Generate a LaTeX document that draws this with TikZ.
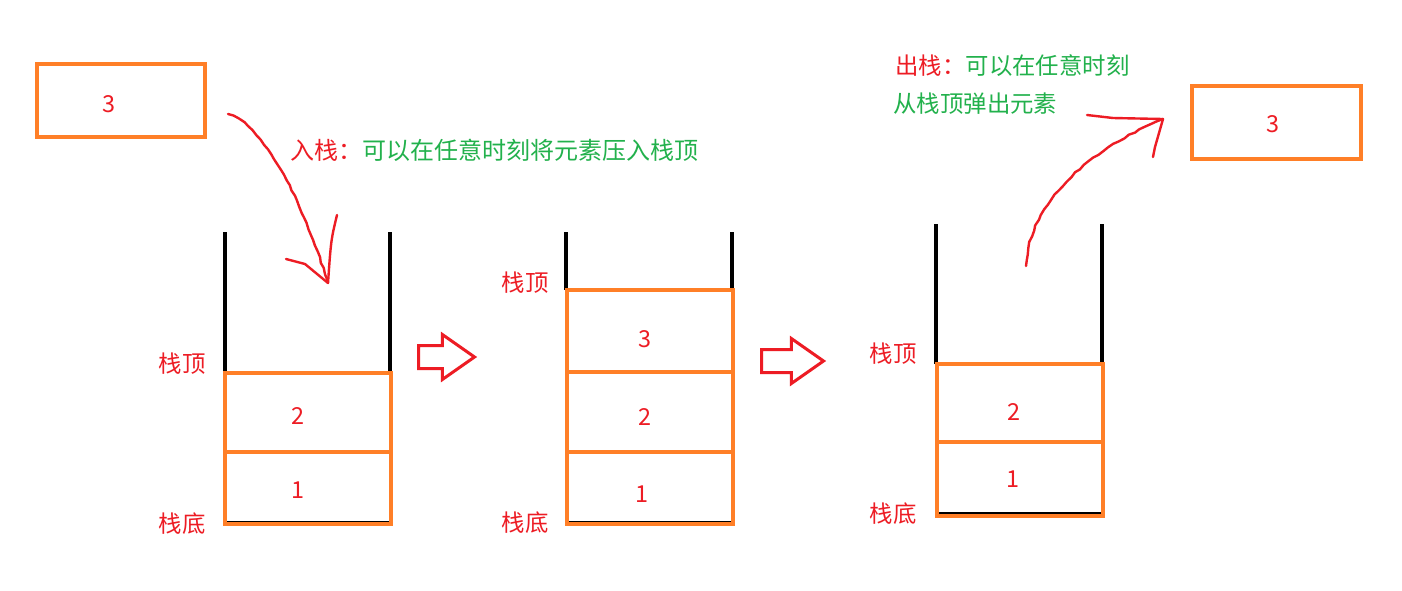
\documentclass[tikz,border=0pt]{standalone}
\usepackage{fontspec}
\setmainfont{Noto Sans CJK SC}
\usetikzlibrary{positioning}
\usetikzlibrary{shapes.arrows}
\usetikzlibrary{decorations.pathmorphing}
\definecolor{paintorange}{HTML}{FF7F27}
\definecolor{paintred}{HTML}{ED1C24}
\definecolor{paintgreen}{HTML}{22B14C}
\tikzset{
   cell/.style={draw=paintorange, line width=2pt, minimum width=83pt, outer sep=0pt,
      inner sep=0pt, text=paintred, font=\fontsize{11.7}{14}\selectfont},
   num/.style 2 args={label={[lbl, shift={#2}]center:#1}},
   wall/.style={black, line width=2pt},
   rim/.style={black, line width=0.7pt},
   lbl/.style={text=paintred, font=\fontsize{11.7}{14}\selectfont, inner sep=0pt},
   note/.style={text=paintgreen, font=\fontsize{11.7}{14}\selectfont, inner sep=0pt, anchor=west},
   pen/.style={paintred, line width=1.2pt, line cap=round, line join=round},
   hand/.style={decorate, decoration={random steps, segment length=3pt, amplitude=0.35pt}},
   shove/.style={single arrow, draw=paintred, line width=1.5pt, inner xsep=0pt, inner ysep=5pt,
      minimum height=28pt, single arrow head extend=5.5pt, single arrow tip angle=70, anchor=tail},
}
\begin{document}
\begin{tikzpicture}[x=0.5pt, y=-0.5pt]
   \useasboundingbox[fill=white] (0,0) rectangle (1402,590);

   % stack before the push
   \draw[rim] (226,232) |- (390,522) -- (390,232);
   \draw[wall] (225,232) -- (225,373);
   \draw[wall] (390,232) -- (390,373);
   \node[cell, minimum height=36pt, num={1}{(-9.5,2)}] (a1) at (307.5,488) {};
   \node[cell, minimum height=39.5pt, above=0pt of a1, num={2}{(-10,3.5)}] (a2) {};
   \node[lbl] (atop) at (182,364) {栈顶};
   \node[lbl] (abot) at (182,524) {栈底};

   % stack after the push
   \draw[rim] (567,232) |- (732,522) -- (732,232);
   \draw[wall] (566,232) -- (566,290);
   \draw[wall] (732,232) -- (732,290);
   \node[cell, minimum height=36pt, num={1}{(-7.5,6)}] (b1) at (649.5,488) {};
   \node[cell, minimum height=40pt, above=0pt of b1, num={2}{(-4.5,4.5)}] (b2) {};
   \node[cell, minimum height=41pt, above=0pt of b2, num={3}{(-4.5,8)}] (b3) {};
   \node[lbl] (btop) at (525,283) {栈顶};
   \node[lbl] (bbot) at (525,523) {栈底};

   % stack after the pop
   \draw[rim] (937,224) |- (1102,513) -- (1102,224);
   \draw[wall] (936,224) -- (936,364);
   \draw[wall] (1102,224) -- (1102,364);
   \node[cell, minimum height=37pt, num={1}{(-6.5,0)}] (c1) at (1019.5,479) {};
   \node[cell, minimum height=39pt, above=0pt of c1, num={2}{(-5.5,9)}] (c2) {};
   \node[lbl] (ctop) at (893,354) {栈顶};
   \node[lbl] (cbot) at (893,514) {栈底};

   \node[shove] (go1) at (417,357) {};
   \node[shove, minimum height=31pt] (go2) at (760,361) {};

   % element pushed in
   \node[cell, line width=2.4pt, minimum width=84pt, minimum height=36.5pt,
      num={3}{(-12,3.5)}] (in3) at (121,100.5) {};
   \node[note, font=\fontsize{12}{14}\selectfont] (pushtxt) at (290,150)
      {\textcolor{paintred}{入栈：}可以在任意时刻将元素压入栈顶};
   \coordinate (p1s) at (228,114);
   \coordinate (p1e) at (328,283);
   \draw[pen, hand] (p1s) .. controls (270,125) and (312,230) .. (p1e);
   \draw[pen] (286,259) -- (305,264) -- (p1e);
   \draw[pen] (337,215) .. controls (331,240) .. (p1e);

   % element popped out
   \node[cell, line width=2.4pt, minimum width=84.5pt, minimum height=36.5pt,
      num={3}{(-3.5,1.5)}] (out3) at (1276.5,122.5) {};
   \node[note] (poptxt) at (895,66) {\textcolor{paintred}{出栈：}可以在任意时刻};
   \node[note] (poptxt2) at (893,104) {从栈顶弹出元素};
   \coordinate (p2s) at (1026,266);
   \coordinate (p2e) at (1163,119);
   \draw[pen, hand] (p2s) .. controls (1030,200) and (1090,150) .. (p2e);
   \draw[pen] (1087,115) -- (1113,118) -- (p2e);
   \draw[pen] (1153,157) -- (1155,147) -- (p2e);
\end{tikzpicture}
\end{document}
